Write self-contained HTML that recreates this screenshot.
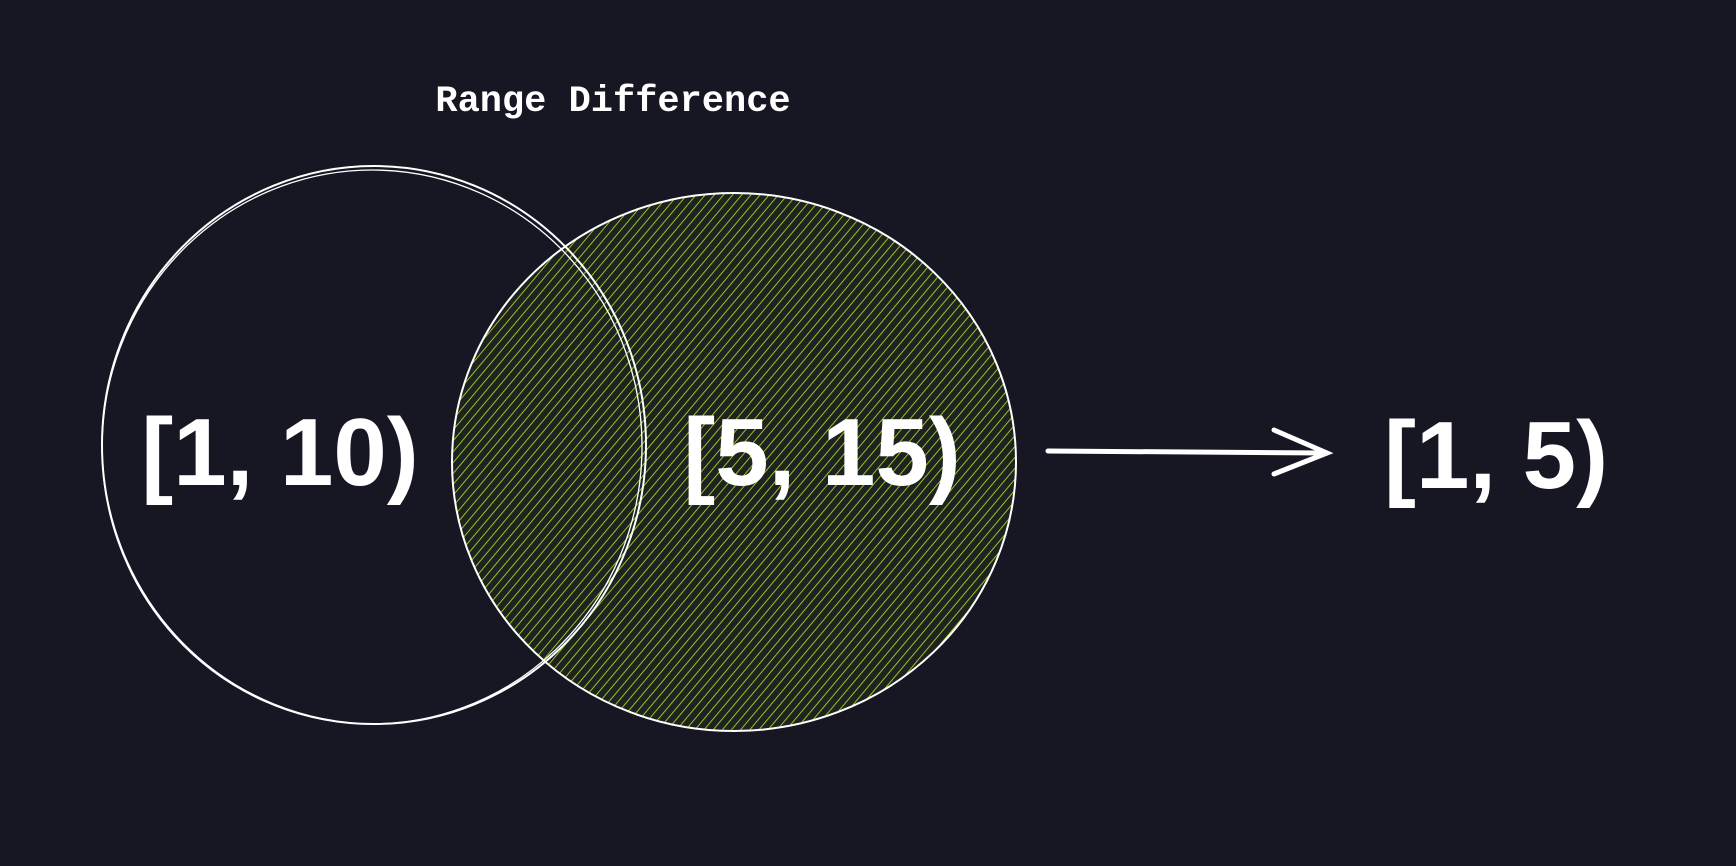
<!DOCTYPE html>
<html><head><style>
html,body{margin:0;padding:0;background:#171724;}
svg{display:block}
</style></head><body>
<svg width="1736" height="866" viewBox="0 0 1736 866" xmlns="http://www.w3.org/2000/svg">
<defs>
<pattern id="h" width="7" height="7" patternUnits="userSpaceOnUse" patternTransform="rotate(40)">
<rect width="7" height="7" fill="#1e2320"/>
<line x1="0" y1="0" x2="0" y2="7" stroke="#a6d22e" stroke-width="1.8"/>
</pattern>
</defs>
<rect width="1736" height="866" fill="#171724"/>
<ellipse cx="734" cy="462" rx="282" ry="269" fill="url(#h)" stroke="#fff" stroke-width="2"/>
<ellipse cx="374" cy="445" rx="272" ry="279" fill="none" stroke="#fff" stroke-width="2"/>
<ellipse cx="372" cy="447" rx="270" ry="277" fill="none" stroke="#fff" stroke-width="1.3" transform="rotate(2 372 447)"/>
<text x="613" y="111" fill="#fff" font-family="Liberation Mono, monospace" font-size="37" font-weight="bold" text-anchor="middle">Range Difference</text>
<g fill="#fff" font-family="Liberation Sans, sans-serif" font-size="96" text-anchor="middle" font-weight="bold">
<text x="280" y="485">[1, 10)</text>
<text x="822" y="485">[5, 15)</text>
<text x="1496" y="488">[1, 5)</text>
</g>
<g stroke="#fff" stroke-width="5" stroke-linecap="round" fill="none">
<line x1="1048" y1="451" x2="1326" y2="453"/>
<polyline points="1274,430 1327,453 1274,474"/>
</g>
</svg>
</body></html>
